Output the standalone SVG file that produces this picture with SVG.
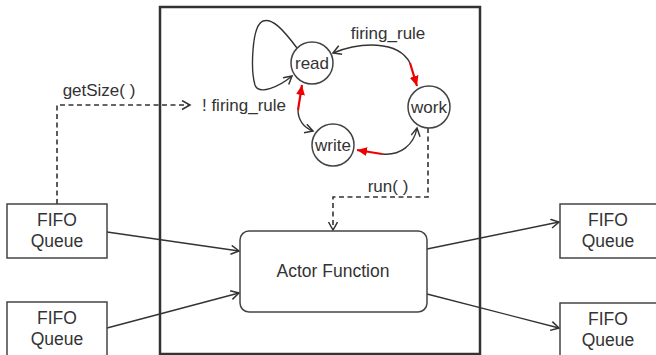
<svg xmlns="http://www.w3.org/2000/svg" width="656" height="355" viewBox="0 0 656 355">
<style>
  .box { fill: #fff; stroke: #444; stroke-width: 1.5; }
  .st { fill: #fff; stroke: #444; stroke-width: 1.5; }
  .ln { fill: none; stroke: #333; stroke-width: 1.4; }
  .dash { fill: none; stroke: #333; stroke-width: 1.6; stroke-dasharray: 5 3.5; }
  .red { fill: none; stroke: #e00; stroke-width: 2.2; }
  text { font-family: "Liberation Sans", Arial, sans-serif; font-size: 17.5px; fill: #333; text-anchor: middle; }
  .lbl { font-size: 17px; }
  .sm { font-size: 17px; }
</style>
<defs>
  <marker id="open" markerUnits="userSpaceOnUse" markerWidth="12" markerHeight="12" refX="9" refY="5" orient="auto-start-reverse">
    <path d="M1,0.5 L9,5 L1,9.5" fill="none" stroke="#333" stroke-width="1.5"/>
  </marker>
  <marker id="redhead" markerUnits="userSpaceOnUse" markerWidth="12" markerHeight="12" refX="10" refY="4.5" orient="auto">
    <path d="M0,0 L10,4.5 L0,9 z" fill="#e00"/>
  </marker>
</defs>
<rect x="160" y="7" width="320" height="347" fill="none" stroke="#333" stroke-width="2.5"/>
<g id="connectors">
  <path class="ln" d="M107,232 L239,251" marker-end="url(#open)"/>
  <path class="ln" d="M107,328 L239,293" marker-end="url(#open)"/>
  <path class="ln" d="M427,249 L559,222" marker-end="url(#open)"/>
  <path class="ln" d="M427,294 L559,328" marker-end="url(#open)"/>
  <path class="dash" d="M57,204 V105 H190" marker-end="url(#open)"/>
  <path class="dash" d="M428,128 V197 H333 V230" marker-end="url(#open)"/>
  <path class="ln" d="M297,48 C282,28 272,18 263,21 C251,26 251,72 255,85 C259,96 280,86 292,76" marker-end="url(#open)"/>
  <path class="ln" d="M333,53 C360,42 398,40 410,63" marker-start="url(#open)"/>
  <path class="red" d="M410,63 L417,86" marker-end="url(#redhead)"/>
  <path class="ln" d="M417,128 C414,145 400,156 382,154" marker-start="url(#open)"/>
  <path class="red" d="M382,154 L357,150" marker-end="url(#redhead)"/>
  <path class="ln" d="M298,110 C298,120 304,128 313,131" marker-end="url(#open)"/>
  <path class="red" d="M298,110 L302,85" marker-end="url(#redhead)"/>
  <text class="lbl" x="99" y="96">getSize( )</text>
  <text class="lbl" x="244" y="111">! firing_rule</text>
  <text class="lbl" x="388" y="39">firing_rule</text>
  <text class="lbl" x="388" y="192">run( )</text>
</g>
<g id="fifo-in-1"><rect class="box" x="7" y="204" width="100" height="54"/><text x="57" y="226">FIFO</text><text x="57" y="247">Queue</text></g>
<g id="fifo-in-2"><rect class="box" x="7" y="302" width="100" height="60"/><text x="57" y="324">FIFO</text><text x="57" y="345">Queue</text></g>
<g id="fifo-out-1"><rect class="box" x="560" y="204" width="100" height="54"/><text x="608" y="226">FIFO</text><text x="608" y="247">Queue</text></g>
<g id="fifo-out-2"><rect class="box" x="560" y="303" width="100" height="60"/><text x="608" y="325">FIFO</text><text x="608" y="346">Queue</text></g>
<g id="actor"><rect class="box" x="240" y="231" width="187" height="81" rx="9"/><text x="333" y="277">Actor Function</text></g>
<g id="read"><circle class="st" cx="312" cy="63" r="21"/><text class="sm" x="312" y="69">read</text></g>
<g id="work"><circle class="st" cx="429" cy="107" r="21"/><text class="sm" x="429" y="113">work</text></g>
<g id="write"><circle class="st" cx="333" cy="145" r="21"/><text class="sm" x="333" y="151">write</text></g>
</svg>
